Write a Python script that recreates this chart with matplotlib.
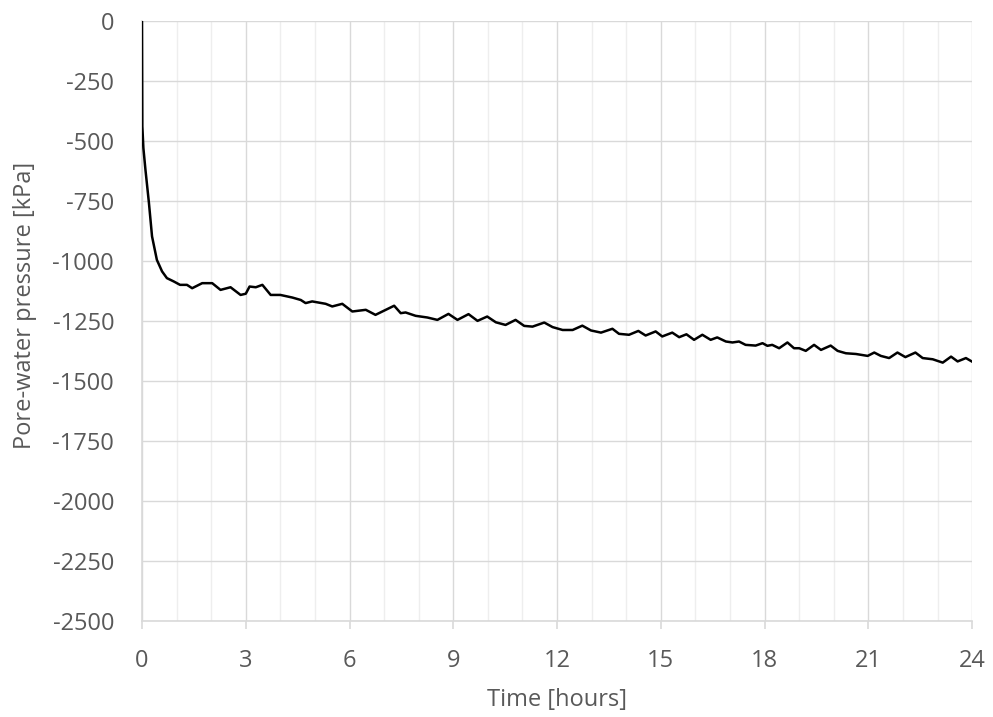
import matplotlib.pyplot as plt
from matplotlib.ticker import MultipleLocator

# time [hours] and pore-water pressure [kPa]
time_h = [0.0, 0.01, 0.04, 0.1, 0.2, 0.29, 0.43, 0.58, 0.72, 0.92,
          1.1, 1.3, 1.45, 1.74, 2.03, 2.27, 2.56, 2.85, 3.0, 3.11, 3.29, 3.48,
          3.72, 4.0, 4.35, 4.59, 4.73, 4.92, 5.31, 5.5, 5.79, 6.08, 6.47, 6.75,
          7.29, 7.48, 7.62, 7.91, 8.25, 8.54, 8.86, 9.12, 9.44, 9.70, 9.98,
          10.23, 10.51, 10.80, 11.05, 11.29, 11.63, 11.87, 12.16, 12.45, 12.73,
          12.98, 13.27, 13.60, 13.79, 14.08, 14.35, 14.56, 14.85, 15.04, 15.33,
          15.53, 15.74, 15.96, 16.20, 16.44, 16.63, 16.88, 17.07, 17.26, 17.45,
          17.74, 17.94, 18.08, 18.22, 18.42, 18.66, 18.85, 19.0, 19.19, 19.43,
          19.63, 19.91, 20.11, 20.35, 20.64, 20.98, 21.17, 21.36, 21.60, 21.84,
          22.07, 22.36, 22.57, 22.86, 23.15, 23.39, 23.58, 23.82, 24.0]
pressure_kpa = [0, -440, -530, -621, -758, -898, -996, -1044, -1072, -1086,
                -1100, -1100, -1114, -1093, -1093, -1121, -1110, -1142, -1137, -1107,
                -1110, -1100, -1142, -1142, -1153, -1163, -1176, -1169, -1179, -1190,
                -1179, -1211, -1204, -1225, -1187, -1218, -1215, -1229, -1236, -1246,
                -1221, -1246, -1222, -1250, -1232, -1256, -1267, -1246, -1271, -1274,
                -1257, -1276, -1288, -1288, -1270, -1290, -1299, -1283, -1304, -1308,
                -1292, -1311, -1294, -1315, -1299, -1318, -1306, -1329, -1308, -1329,
                -1319, -1336, -1340, -1336, -1350, -1353, -1343, -1354, -1350, -1364,
                -1340, -1364, -1364, -1375, -1350, -1371, -1353, -1375, -1385, -1388,
                -1396, -1382, -1396, -1405, -1382, -1401, -1382, -1405, -1410, -1424,
                -1399, -1419, -1405, -1420]

plt.rcParams['font.family'] = ['Open Sans', 'DejaVu Sans']
plt.rcParams['axes.unicode_minus'] = False
grey_text = '#595959'

fig = plt.figure(figsize=(9.93, 7.17), dpi=100)
ax = fig.add_axes([0.143, 0.134, 0.836, 0.837])

ax.plot(time_h, pressure_kpa, color='black', linewidth=1.8, zorder=3,
        solid_joinstyle='round')

ax.set_xlim(0, 24)
ax.set_ylim(-2500, 0)
ax.xaxis.set_major_locator(MultipleLocator(3))
ax.xaxis.set_minor_locator(MultipleLocator(1))
ax.yaxis.set_major_locator(MultipleLocator(250))

ax.grid(True, which='major', color='#d9d9d9', linewidth=1.0)
ax.grid(True, which='minor', axis='x', color='#eeeeee', linewidth=1.0)
ax.set_axisbelow(True)

for side in ['top', 'right']:
    ax.spines[side].set_visible(False)
for side in ['left', 'bottom']:
    ax.spines[side].set_color('#d9d9d9')
    ax.spines[side].set_linewidth(1.2)

ax.tick_params(axis='x', which='major', length=6, color='#d9d9d9', width=1.2,
               labelsize=17, labelcolor=grey_text, pad=14)
ax.tick_params(axis='x', which='minor', length=0)
ax.tick_params(axis='y', length=0, labelsize=17, labelcolor=grey_text, pad=20)

ax.set_xlabel('Time [hours]', fontsize=17, color=grey_text, labelpad=11)
ax.set_ylabel('Pore-water pressure [kPa]', fontsize=17, color=grey_text)
ax.yaxis.set_label_coords(-0.127, 0.525)

fig.savefig('out.png', dpi=100)
